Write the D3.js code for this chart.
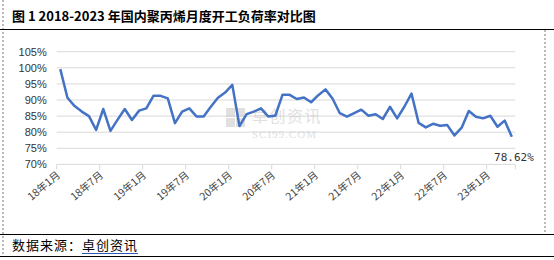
<!DOCTYPE html>
<html>
<head>
<meta charset="utf-8">
<script src="https://cdn.jsdelivr.net/npm/d3@7"></script>
<style>
  body { margin: 0; background: #fff; }
  svg { display: block; }
</style>
</head>
<body>
<svg id="chart" width="554" height="260"></svg>
<script>
// monthly run rate, 2018-01 .. 2023-04 (%)
var months = d3.range(64).map(function(i) {
    var y = 18 + Math.floor(i / 12), m = i % 12 + 1;
    return y + "年" + m + "月";
});
var rates = [
    99.6, 90.7, 88.1, 86.4, 85.0, 80.7, 87.2, 80.4, 83.9, 87.2,
    83.8, 86.7, 87.4, 91.3, 91.3, 90.5, 82.8, 86.4, 87.4, 84.9,
    84.9, 87.9, 90.7, 92.3, 94.7, 81.9, 85.6, 86.4, 87.4, 84.9,
    85.1, 91.6, 91.6, 90.3, 90.8, 89.3, 91.5, 93.3, 90.4, 85.9,
    84.8, 85.9, 87.0, 85.1, 85.6, 84.1, 87.9, 84.3, 87.9, 92.0,
    82.9, 81.5, 82.6, 82.0, 82.2, 79.0, 81.4, 86.6, 84.8, 84.3,
    85.1, 81.7, 83.6, 78.62
];
var yTicks = [70, 75, 80, 85, 90, 95, 100, 105];
var tickMonths = d3.range(0, 64, 6);   // label every 6 months

var svg = d3.select("#chart");

// frame lines
svg.append("line").attr("x1", 3).attr("x2", 3).attr("y1", 0).attr("y2", 256)
    .attr("stroke", "#777").attr("stroke-dasharray", "2,2");
svg.append("line").attr("x1", 545).attr("x2", 545).attr("y1", 30).attr("y2", 234)
    .attr("stroke", "#777").attr("stroke-dasharray", "2,2");
svg.append("line").attr("x1", 0).attr("x2", 554).attr("y1", 29.5).attr("y2", 29.5)
    .attr("stroke", "#000").attr("stroke-width", 1.2);
svg.append("line").attr("x1", 0).attr("x2", 554).attr("y1", 234.5).attr("y2", 234.5)
    .attr("stroke", "#000").attr("stroke-width", 1.2);
svg.append("line").attr("x1", 0).attr("x2", 554).attr("y1", 256.5).attr("y2", 256.5)
    .attr("stroke", "#000").attr("stroke-width", 1.2);

// title
svg.append("text")
    .attr("x", 12).attr("y", 21)
    .style("font-family", "'Noto Sans CJK SC', sans-serif")
    .style("font-size", "13px")
    .style("font-weight", "bold")
    .text("图 1 2018-2023 年国内聚丙烯月度开工负荷率对比图");

// source
var src = svg.append("text")
    .attr("x", 12).attr("y", 250)
    .style("font-family", "'Noto Sans CJK SC', sans-serif")
    .style("font-size", "13px")
    .style("letter-spacing", "1px");
src.append("tspan").text("数据来源：");
var link = src.append("tspan").text("卓创资讯");
var lb = link.node().getBBox();
svg.append("line").attr("x1", lb.x).attr("x2", lb.x + lb.width).attr("y1", 253.5).attr("y2", 253.5)
    .attr("stroke", "#2f55b8").attr("stroke-width", 1);

// scales
var x = d3.scaleBand().domain(months).range([56.7, 515.4]);
var y = d3.scaleLinear().domain([70, 105]).range([164.4, 51.7]);

// gridlines
svg.append("g").selectAll("line")
    .data(yTicks.slice(1))
    .enter().append("line")
    .attr("x1", x.range()[0]).attr("x2", x.range()[1])
    .attr("y1", function(d) { return y(d); })
    .attr("y2", function(d) { return y(d); })
    .attr("stroke", "#d9d9d9").attr("stroke-width", 1);

// y axis labels
var yAxis = svg.append("g")
    .attr("transform", "translate(56.7,0)")
    .call(d3.axisLeft(y).tickValues(yTicks).tickSize(0).tickPadding(10)
        .tickFormat(function(d) { return d + "%"; }));
yAxis.select(".domain").remove();
yAxis.selectAll("text")
    .style("font-family", "'Liberation Sans', Arial, sans-serif")
    .style("font-size", "11px")
    .attr("fill", "#333");

// x axis: ticks at band boundaries
var xAxis = svg.append("g").attr("transform", "translate(0," + y(70) + ")");
xAxis.append("line")
    .attr("x1", x.range()[0]).attr("x2", x.range()[1])
    .attr("stroke", "#d9d9d9").attr("stroke-width", 1);
xAxis.selectAll(".tk")
    .data(tickMonths.concat([64]))
    .enter().append("line")
    .attr("class", "tk")
    .attr("x1", function(i) { return x.range()[0] + i * x.step(); })
    .attr("x2", function(i) { return x.range()[0] + i * x.step(); })
    .attr("y1", 0).attr("y2", 5)
    .attr("stroke", "#d9d9d9");
xAxis.selectAll(".lbl")
    .data(tickMonths)
    .enter().append("text")
    .attr("class", "lbl")
    .attr("transform", function(i) {
        return "translate(" + (x(months[i]) + 2) + ",9) rotate(-40)";
    })
    .attr("text-anchor", "end")
    .attr("dy", "0.35em")
    .style("font-family", "'Noto Sans CJK SC', sans-serif")
    .style("font-size", "10.5px")
    .attr("fill", "#444")
    .text(function(i) { return months[i]; });

// watermark
var wm = svg.append("g").attr("opacity", 0.55);
[[0, 0], [10, 0], [0, 10], [10, 10]].forEach(function(p) {
    wm.append("rect").attr("x", 226 + p[0]).attr("y", 108 + p[1])
        .attr("width", 9).attr("height", 9).attr("fill", "#c8c8c8");
});
wm.append("text").attr("x", 252).attr("y", 122)
    .style("font-family", "'Noto Sans CJK SC', sans-serif")
    .style("font-size", "16px").style("letter-spacing", "1.5px").attr("fill", "#c8c8c8")
    .text("卓创资讯");
wm.append("text").attr("x", 252).attr("y", 138)
    .style("font-family", "'Liberation Serif', serif")
    .style("font-size", "11px").style("letter-spacing", "1px").attr("fill", "#c8c8c8")
    .text("SCI99.COM");

// line
var line = d3.line()
    .x(function(d, i) { return x(months[i]) + x.bandwidth() / 2; })
    .y(function(d) { return y(d); });
svg.append("path")
    .datum(rates)
    .attr("d", line)
    .attr("fill", "none")
    .attr("stroke", "#4472c4")
    .attr("stroke-width", 2.5)
    .attr("stroke-linejoin", "round");

// last value label
var last = rates.length - 1;
svg.append("text")
    .attr("x", x(months[last]) + x.bandwidth() / 2 + 22)
    .attr("y", y(rates[last]) + 24)
    .attr("text-anchor", "end")
    .style("font-family", "'DejaVu Sans Mono', monospace")
    .style("font-size", "11px")
    .attr("fill", "#333")
    .text(rates[last].toFixed(2) + "%");
</script>
</body>
</html>
